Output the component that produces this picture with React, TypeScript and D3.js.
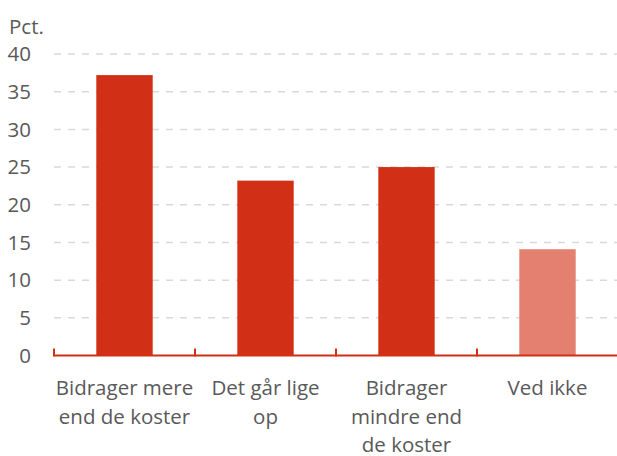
import React, { useEffect, useRef } from 'react';
import * as d3 from 'd3';

const categories = ['Bidrager mere end de koster', 'Det går lige op', 'Bidrager mindre end de koster', 'Ved ikke'];
const labelLines = [['Bidrager mere', 'end de koster'], ['Det går lige', 'op'], ['Bidrager', 'mindre end', 'de koster'], ['Ved ikke']];
const values = [37.2, 23.2, 25.0, 14.1];
const barColors = ['#D22F17', '#D22F17', '#D22F17', '#E38070'];
const yTicks = [0, 5, 10, 15, 20, 25, 30, 35, 40];

const App = () => {
  const svgRef = useRef<SVGSVGElement>(null);

  useEffect(() => {
    const width = 617;
    const height = 456;
    const margin = { top: 54, right: -1, bottom: 100.5, left: 54 };
    const font = "Open Sans, sans-serif";
    const fontSize = 20.5;

    const svg = d3.select(svgRef.current);
    svg.selectAll('*').remove();
    svg.attr('width', width).attr('height', height);

    const x = d3.scaleBand()
      .domain(categories)
      .range([margin.left, width - margin.right])
      .paddingInner(0.6)
      .paddingOuter(0.3);

    const y = d3.scaleLinear()
      .domain([0, 40])
      .range([height - margin.bottom, margin.top]);

    // gridlines
    svg.append('g')
      .selectAll('line')
      .data(yTicks.filter(d => d > 0))
      .enter()
      .append('line')
      .attr('x1', margin.left)
      .attr('x2', width - margin.right)
      .attr('y1', d => y(d))
      .attr('y2', d => y(d))
      .attr('stroke', '#D9D9D9')
      .attr('stroke-width', 1.5)
      .attr('stroke-dasharray', '7,7');

    // y labels
    svg.append('g')
      .selectAll('text')
      .data(yTicks)
      .enter()
      .append('text')
      .attr('x', 31)
      .attr('y', d => y(d))
      .attr('dy', '0.35em')
      .attr('text-anchor', 'end')
      .attr('font-family', font)
      .attr('font-size', fontSize)
      .attr('fill', '#595959')
      .text(d => d);

    svg.append('text')
      .attr('x', 9)
      .attr('y', 27)
      .attr('dy', '0.35em')
      .attr('font-family', font)
      .attr('font-size', fontSize)
      .attr('fill', '#595959')
      .text('Pct.');

    // bars
    svg.append('g')
      .selectAll('rect')
      .data(values)
      .enter()
      .append('rect')
      .attr('x', (d, i) => x(categories[i])!)
      .attr('y', d => y(d))
      .attr('width', x.bandwidth())
      .attr('height', d => y(0) - y(d))
      .attr('fill', (d, i) => barColors[i]);

    // axis line + ticks at band edges
    const step = x.step();
    const y0 = y(0);
    svg.append('line')
      .attr('x1', margin.left)
      .attr('x2', width - margin.right)
      .attr('y1', y0)
      .attr('y2', y0)
      .attr('stroke', '#D22F17')
      .attr('stroke-width', 2);

    svg.append('g')
      .selectAll('line')
      .data(d3.range(categories.length))
      .enter()
      .append('line')
      .attr('x1', i => margin.left + i * step)
      .attr('x2', i => margin.left + i * step)
      .attr('y1', y0 - 7)
      .attr('y2', y0 + 1)
      .attr('stroke', '#D22F17')
      .attr('stroke-width', 2);

    // x labels
    const labels = svg.append('g')
      .selectAll('text')
      .data(categories)
      .enter()
      .append('text')
      .attr('x', d => x(d)! + x.bandwidth() / 2)
      .attr('y', 388)
      .attr('text-anchor', 'middle')
      .attr('font-family', font)
      .attr('font-size', fontSize)
      .attr('fill', '#595959');

    labels.selectAll('tspan')
      .data((d, i) => labelLines[i])
      .enter()
      .append('tspan')
      .attr('x', function () { return (this.parentNode as SVGTextElement).getAttribute('x'); })
      .attr('y', (d, j) => 388 + j * 28.5)
      .attr('dy', '0.35em')
      .text(d => d);
  }, []);

  return <svg ref={svgRef} style={{ position: 'absolute', left: 0, top: 0 }}></svg>;
};

export default App;
